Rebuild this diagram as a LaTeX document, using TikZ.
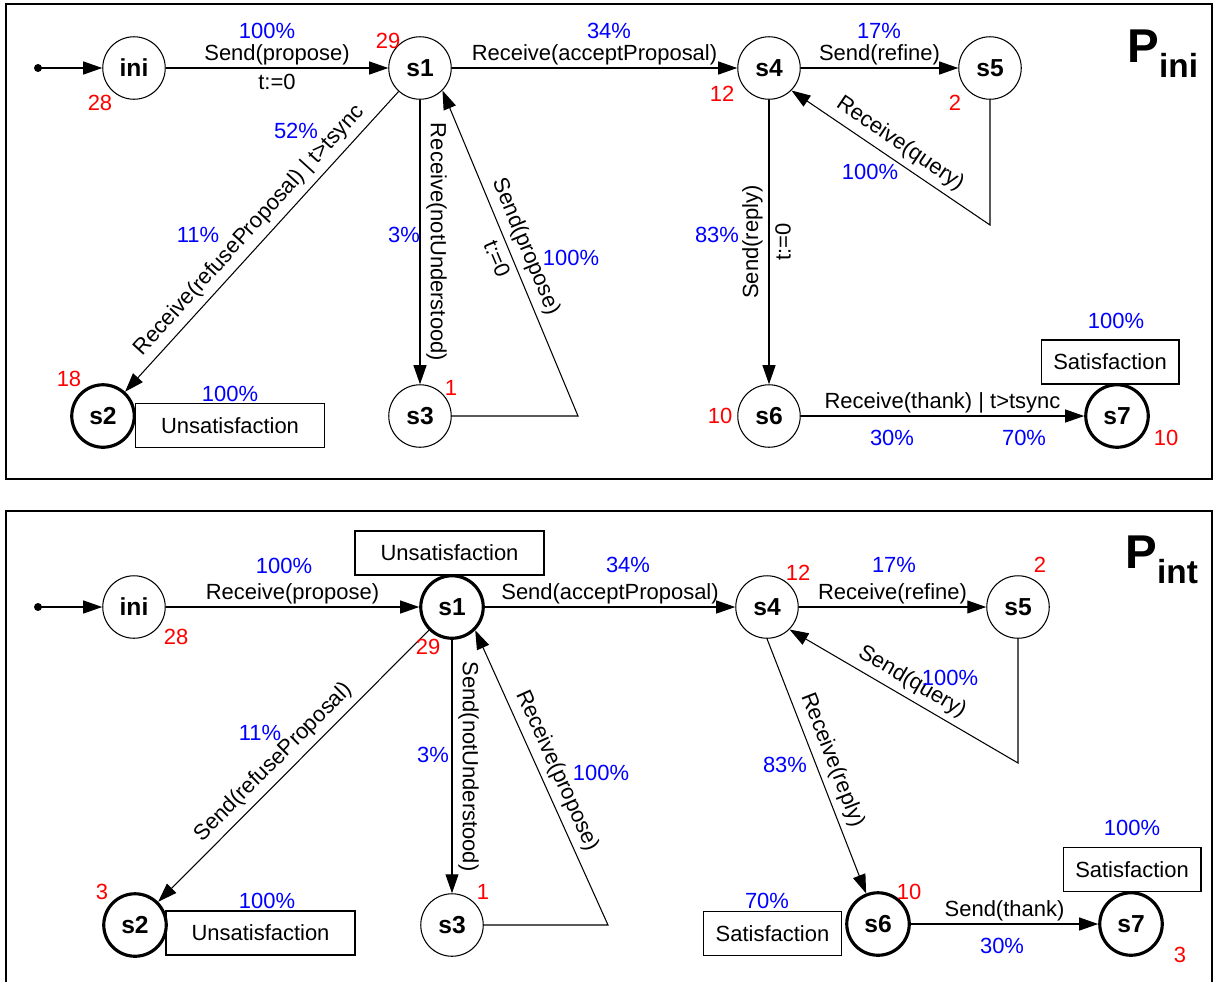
\documentclass[tikz,border=0pt]{standalone}
\usepackage{fontspec}
\setmainfont{Liberation Sans}
\usetikzlibrary{arrows.meta}

\begin{document}
\begin{tikzpicture}[x=0.02cm,y=-0.02cm,line width=0.6pt,
  >={Triangle[length=0.38cm,width=0.26cm]},
  font=\fontsize{12.5}{15}\selectfont,
  state/.style={circle,draw,minimum size=1.25cm,inner sep=0pt,font=\fontsize{14}{16}\selectfont\bfseries},
  accept/.style={state,line width=1.8pt},
  lbl/.style={inner sep=1.6pt},
  pct/.style={text=blue},
  cnt/.style={text=red},
  emo/.style={draw,minimum height=0.88cm,inner sep=0pt},
  unsat/.style={emo,minimum width=3.78cm},
  sat/.style={emo,minimum width=2.76cm},
  title/.style={anchor=base west,inner sep=0pt,font=\fontsize{27}{30}\selectfont\bfseries}]
\useasboundingbox (0,0) rectangle (1219,981);

% P_ini
\draw (6,4) rectangle (1212,479);
\node[title] (pA) at (1127,62) {P\raisebox{-9pt}{\fontsize{19}{20}\selectfont ini}};
\coordinate (dotA) at (38,68);
\node[state] (iniA) at (134,68) {ini};
\node[state] (s1A) at (420,68) {s1};
\node[accept] (s2A) at (103,416) {s2};
\node[state] (s3A) at (420,416) {s3};
\node[state] (s4A) at (769,68) {s4};
\node[state] (s5A) at (990,68) {s5};
\node[state] (s6A) at (769,416) {s6};
\node[accept] (s7A) at (1117,416) {s7};
\coordinate (kA) at (578,416);
\coordinate (qA) at (990,225);
\node[unsat] (uA) at (230,425.5) {Unsatisfaction};
\node[sat] (sA) at (1110,362) {Satisfaction};

\fill (dotA) circle [radius=.08cm];
\draw[->] (dotA) -- (iniA);
\draw[->] (iniA) -- (s1A) node[midway,above,lbl]{Send(propose)} node[midway,below]{t:=0};
\draw[->] (s1A) -- (s4A) node[midway,above,lbl]{Receive(acceptProposal)};
\draw[->] (s4A) -- (s5A) node[midway,above,lbl]{Send(refine)};
\draw[->] (s1A) -- (s2A) node[midway,sloped,above]{Receive(refuseProposal) | t>tsync};
\draw[->] (s1A) -- (s3A) node[midway,rotate=-90,above]{Receive(notUnderstood)};
\draw[->] (s3A) -- (kA) -- (s1A.-45) node[midway,sloped,above]{Send(propose)} node[midway,sloped,below]{t:=0};
\draw[->] (s5A) -- (qA) -- (s4A.-45) node[midway,sloped,above]{Receive(query)};
\draw[->] (s4A) -- (s6A) node[midway,rotate=90,above]{Send(reply)} node[midway,rotate=90,below]{t:=0};
\draw[->] (s6A) -- (s7A) node[midway,above,lbl]{Receive(thank) | t>tsync};

\node[pct] (pA1) at (267,31) {100\%};
\node[pct] (pA2) at (609,31) {34\%};
\node[pct] (pA3) at (879,31) {17\%};
\node[pct] (pA4) at (296,131) {52\%};
\node[pct] (pA5) at (198,235) {11\%};
\node[pct] (pA6) at (404,235) {3\%};
\node[pct] (pA7) at (571,258) {100\%};
\node[pct] (pA8) at (230,394) {100\%};
\node[pct] (pA9) at (717,235) {83\%};
\node[pct] (pA10) at (870,172) {100\%};
\node[pct] (pA11) at (1116,321) {100\%};
\node[pct] (pA12) at (892,438) {30\%};
\node[pct] (pA13) at (1024,438) {70\%};

\node[cnt] (cA1) at (100,103) {28};
\node[cnt] (cA2) at (388,41) {29};
\node[cnt] (cA3) at (722,94) {12};
\node[cnt] (cA4) at (955,103) {2};
\node[cnt] (cA5) at (69,379) {18};
\node[cnt] (cA6) at (451,388) {1};
\node[cnt] (cA7) at (720,416) {10};
\node[cnt] (cA8) at (1166,438) {10};

% P_int
\draw (6,990) -- (6,511) -- (1212,511) -- (1212,990);
\node[title] (pB) at (1125,568) {P\raisebox{-9pt}{\fontsize{19}{20}\selectfont int}};
\coordinate (dotB) at (38,607);
\node[state] (iniB) at (134,607) {ini};
\node[accept] (s1B) at (452,607) {s1};
\node[accept] (s2B) at (135,925) {s2};
\node[state] (s3B) at (452,925) {s3};
\node[state] (s4B) at (767,607) {s4};
\node[state] (s5B) at (1018,607) {s5};
\node[accept] (s6B) at (878,924) {s6};
\node[accept] (s7B) at (1131,924) {s7};
\coordinate (kB) at (608,925);
\coordinate (qB) at (1018,763);
\node[unsat] (uB1) at (449.5,553) {Unsatisfaction};
\node[unsat] (uB2) at (260.5,933) {Unsatisfaction};
\node[sat] (sB1) at (772.5,933.5) {Satisfaction};
\node[sat] (sB2) at (1132,869.5) {Satisfaction};

\fill (dotB) circle [radius=.08cm];
\draw[->] (dotB) -- (iniB);
\draw[->] (iniB) -- (s1B) node[midway,above,lbl]{Receive(propose)};
\draw[->] (s1B) -- (s4B) node[midway,above,lbl]{Send(acceptProposal)};
\draw[->] (s4B) -- (s5B) node[midway,above,lbl]{Receive(refine)};
\draw[->] (s1B) -- (s2B) node[pos=0.53,sloped,above]{Send(refuseProposal)};
\draw[->] (s1B) -- (s3B) node[midway,rotate=-90,above]{Send(notUnderstood)};
\draw[->] (s3B) -- (kB) -- (s1B.-45) node[midway,sloped,above]{Receive(propose)};
\draw[->] (s5B) -- (qB) -- (s4B.-45) node[midway,sloped,above]{Send(query)};
\draw[->] (s4B.south) -- (s6B) node[midway,sloped,above]{Receive(reply)};
\draw[->] (s6B) -- (s7B) node[midway,above,lbl]{Send(thank)};

\node[pct] (pB1) at (284,566) {100\%};
\node[pct] (pB2) at (628,565) {34\%};
\node[pct] (pB3) at (894,565) {17\%};
\node[pct] (pB4) at (260,733) {11\%};
\node[pct] (pB5) at (433,755) {3\%};
\node[pct] (pB6) at (601,773) {100\%};
\node[pct] (pB7) at (950,678) {100\%};
\node[pct] (pB8) at (785,765) {83\%};
\node[pct] (pB9) at (267,901) {100\%};
\node[pct] (pB10) at (767,901) {70\%};
\node[pct] (pB11) at (1002,946) {30\%};
\node[pct] (pB12) at (1132,828) {100\%};

\node[cnt] (cB1) at (176,637) {28};
\node[cnt] (cB2) at (428,647) {29};
\node[cnt] (cB3) at (798,573) {12};
\node[cnt] (cB4) at (1040,565) {2};
\node[cnt] (cB5) at (102,892) {3};
\node[cnt] (cB6) at (483,892) {1};
\node[cnt] (cB7) at (909,892) {10};
\node[cnt] (cB8) at (1180,955) {3};
\end{tikzpicture}
\end{document}
